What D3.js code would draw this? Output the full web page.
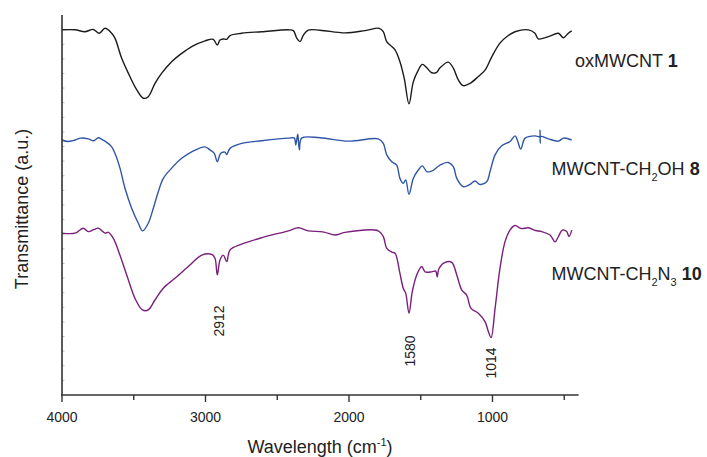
<!DOCTYPE html>
<html><head><meta charset="utf-8">
<script src="https://cdn.jsdelivr.net/npm/d3@7"></script>
<style>
html,body{margin:0;padding:0;background:#fff;}
svg{display:block;font-family:"Liberation Sans",Arial,sans-serif;}
</style></head><body>
<svg id="chart" width="707" height="457"></svg>
<script>
// ---- data (wavenumber cm-1, transmittance a.u.) ----
const oxWn = [4000,3909,3840,3782,3740,3700,3654,3631,3584,3538,3479,3433,3399,3352,3305,3236,3166,3096,3003,2946,2918,2899,2876,2852,2829,2748,2608,2423,2388,2364,2341,2318,2284,2202,2028,1888,1789,1761,1737,1702,1679,1645,1615,1582,1552,1517,1489,1458,1424,1389,1366,1308,1273,1238,1203,1157,1099,1052,1005,948,890,843,750,704,681,611,541,506,472,448];
const oxT  = [96.1,96.1,95.6,96.2,95.2,96.5,95.2,93.9,88.6,84.7,80.3,78.1,78.5,82.0,84.7,87.7,89.9,91.7,93.2,93.6,92.1,93.4,93.7,93.6,94.6,95.2,95.6,96.1,95.9,93.9,93.0,94.7,96.0,96.0,95.3,95.9,96.5,95.6,93.0,91.7,90.8,87.7,83.3,76.6,82.4,85.5,87.0,86.1,84.8,84.9,86.1,87.6,86.0,82.9,81.4,82.0,83.8,85.5,89.0,92.6,94.6,95.6,96.1,95.2,93.7,94.3,95.2,94.0,95.2,95.8];

const ohWn = [4000,3960,3909,3870,3817,3780,3747,3720,3700,3654,3631,3596,3561,3514,3468,3438,3399,3364,3329,3294,3236,3166,3096,3003,2969,2939,2918,2894,2864,2852,2829,2748,2608,2423,2381,2371,2357,2346,2330,2202,2005,1796,1761,1737,1702,1668,1645,1622,1605,1582,1552,1517,1489,1458,1424,1366,1308,1273,1249,1203,1157,1122,1087,1040,1017,982,936,878,843,827,803,773,704,672,669,667,664,611,541,506,448];
const ohT  = [67.1,66.7,67.1,67.6,67.4,66.9,67.7,67.2,66.8,65.3,63.6,59.7,54.4,49.1,45.2,43.2,45.2,49.1,53.5,57.0,59.7,62.3,64.0,65.3,64.5,63.6,61.4,63.6,63.9,63.3,64.9,66.2,66.9,67.6,67.6,65.8,68.6,64.5,67.6,67.7,66.8,67.4,66.2,63.2,61.4,60.5,57.0,55.7,56.6,52.8,57.0,59.2,60.3,58.8,58.9,60.5,61.2,60.1,57.0,54.8,55.4,56.3,55.4,56.1,58.8,63.2,65.6,66.7,68.2,67.1,64.7,67.6,68.2,68.0,69.7,66.3,68.0,67.4,66.8,67.6,67.1];

const n3Wn = [4000,3909,3852,3817,3780,3747,3700,3677,3642,3596,3549,3491,3440,3399,3352,3294,3213,3120,3026,2957,2934,2918,2899,2876,2852,2829,2748,2608,2423,2353,2284,2202,2167,2097,2028,1796,1761,1737,1702,1679,1645,1622,1605,1582,1559,1528,1493,1470,1424,1396,1385,1373,1331,1284,1249,1214,1180,1150,1099,1052,1029,1010,982,948,913,878,843,800,750,700,657,599,564,541,513,483,467,448];
const n3T  = [42.6,42.6,43.9,43.0,43.5,43.9,42.6,42.8,41.2,36.8,31.6,25.4,22.4,22.4,25.0,28.1,30.7,33.8,36.8,37.0,36.0,31.6,35.5,36.8,35.1,38.2,39.7,41.4,43.2,44.0,43.2,43.0,42.8,42.1,42.8,43.2,41.7,38.6,37.6,37.3,32.0,28.1,26.8,21.5,27.2,31.6,33.8,32.4,32.4,32.6,31.1,33.3,34.9,34.9,31.6,27.6,26.3,22.8,21.5,19.3,16.7,15.1,22.8,33.3,40.3,43.4,44.6,43.8,44.0,43.3,43.0,42.1,40.3,41.7,43.4,43.0,41.7,43.4];

const xTicksMajor = [4000,3000,2000,1000];
const xTicksMinor = [3500,2500,1500,500];
const peakLabels = [
  {wn:2912, text:"2912"},
  {wn:1580, text:"1580"},
  {wn:1014, text:"1014"}
];
const seriesNames = ["oxMWCNT","MWCNT-CH","MWCNT-CH"];

// ---- layout ----
const svg = d3.select("#chart");
const x = d3.scaleLinear().domain([4000,400]).range([62,578.6]);
const y = d3.scaleLinear().domain([0,100]).range([395,15]);
const axisColor = "#333";

// y axis faint minor ticks (inside)
const yTicks = d3.range(0, 100.01, 100/26).slice(1,-1);
svg.append("g").selectAll("line").data(yTicks).join("line")
  .attr("x1",62).attr("x2",64.5)
  .attr("y1",d=>y(d)).attr("y2",d=>y(d))
  .attr("stroke","#aaa").attr("stroke-width",0.8);

// lines
const line = d3.line().x(d=>x(d[0])).y(d=>y(d[1])).curve(d3.curveCatmullRom.alpha(0.5));
const series = [
  {wn:oxWn, t:oxT, color:"#1b1b1b"},
  {wn:ohWn, t:ohT, color:"#2f56a6"},
  {wn:n3Wn, t:n3T, color:"#7a1f7c"}
];
series.forEach(s=>{
  svg.append("path").datum(d3.zip(s.wn, s.t))
    .attr("d", line).attr("fill","none")
    .attr("stroke", s.color).attr("stroke-width",1.4)
    .attr("stroke-linejoin","round");
});

// axes lines
svg.append("line").attr("x1",62).attr("x2",62).attr("y1",15).attr("y2",395.5)
  .attr("stroke",axisColor).attr("stroke-width",1.6);
svg.append("line").attr("x1",61.2).attr("x2",578.6).attr("y1",395).attr("y2",395)
  .attr("stroke",axisColor).attr("stroke-width",1.6);

// x ticks
svg.append("g").selectAll("line").data(xTicksMajor).join("line")
  .attr("x1",d=>x(d)).attr("x2",d=>x(d)).attr("y1",395).attr("y2",402)
  .attr("stroke",axisColor).attr("stroke-width",1.4);
svg.append("g").selectAll("line").data(xTicksMinor).join("line")
  .attr("x1",d=>x(d)).attr("x2",d=>x(d)).attr("y1",395).attr("y2",400)
  .attr("stroke",axisColor).attr("stroke-width",1.4);
svg.append("g").selectAll("text").data(xTicksMajor).join("text")
  .attr("x",d=>x(d)).attr("y",421.5).attr("text-anchor","middle")
  .attr("font-size",14).attr("fill","#222").text(d=>d);

// axis titles
const xt = svg.append("text").attr("x",320).attr("y",453).attr("text-anchor","middle")
  .attr("font-size",18).attr("fill","#222");
xt.append("tspan").text("Wavelength (cm");
xt.append("tspan").attr("font-size",11).attr("dy",-7).text("-1");
xt.append("tspan").attr("dy",7).text(")");

svg.append("text").attr("transform","translate(28,209) rotate(-90)")
  .attr("text-anchor","middle").attr("font-size",18).attr("fill","#222")
  .text("Transmittance (a.u.)");

// peak labels
const peakY = [321, 351, 363];
svg.append("g").selectAll("text").data(peakLabels).join("text")
  .attr("transform",(d,i)=>`translate(${x(d.wn)+6},${peakY[i]}) rotate(-90)`)
  .attr("text-anchor","middle").attr("font-size",14).attr("fill","#222")
  .text(d=>d.text);

// series labels
const l1 = svg.append("text").attr("x",575).attr("y",67).attr("font-size",18).attr("fill","#222");
l1.append("tspan").text(seriesNames[0]+" ");
l1.append("tspan").attr("font-weight","bold").text("1");

const l2 = svg.append("text").attr("x",551.5).attr("y",175).attr("font-size",18).attr("fill","#222");
l2.append("tspan").text(seriesNames[1]);
l2.append("tspan").attr("font-size",11).attr("dy",6).text("2");
l2.append("tspan").attr("dy",-6).text("OH ");
l2.append("tspan").attr("font-weight","bold").text("8");

const l3 = svg.append("text").attr("x",551.5).attr("y",280).attr("font-size",18).attr("fill","#222");
l3.append("tspan").text(seriesNames[2]);
l3.append("tspan").attr("font-size",11).attr("dy",6).text("2");
l3.append("tspan").attr("dy",-6).text("N");
l3.append("tspan").attr("font-size",11).attr("dy",6).text("3");
l3.append("tspan").attr("dy",-6).text(" ");
l3.append("tspan").attr("font-weight","bold").text("10");
</script>
</body></html>
